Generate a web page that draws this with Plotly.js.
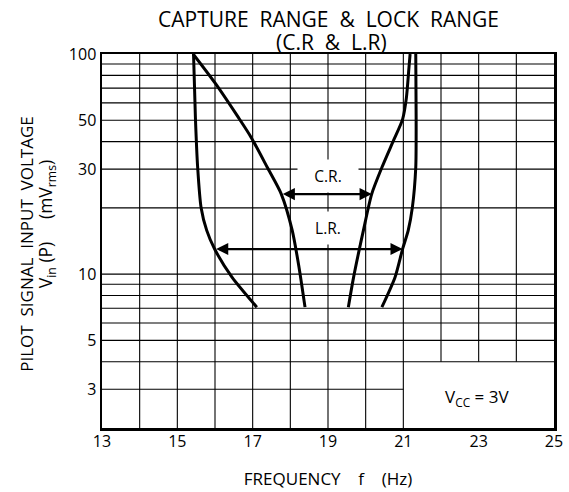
<!DOCTYPE html>
<html>
<head>
<meta charset="utf-8">
<script src="https://cdn.plot.ly/plotly-3.0.1.min.js"></script>
<style>html,body{margin:0;padding:0;background:#fff;}#chart{width:569px;height:492px;}</style>
</head>
<body>
<div id="chart"></div>
<script>
// Tick labels and grid values
const xTickVals = [13, 15, 17, 19, 21, 23, 25];
const yTickVals = [3, 5, 10, 30, 50, 100];
const xGridVals = [14, 15, 16, 17, 18, 19, 20, 21, 22, 23, 24];
const yGridVals = [3, 4, 5, 6, 7, 8, 9, 10, 20, 30, 40, 50, 60, 70, 80, 90];

// Lock range (L.R.) curves
const lrLeftX  = [15.43, 15.48, 15.54, 15.63, 15.78, 15.99, 16.45, 17.11];
const lrLeftY  = [100, 51.5, 30.5, 20.1, 15.8, 13.0, 9.69, 7.08];
const lrRightX = [21.33, 21.34, 21.33, 21.24, 21.13, 20.98, 20.78, 20.43];
const lrRightY = [100, 51.5, 30.5, 20.1, 15.8, 13.0, 9.69, 7.08];

// Capture range (C.R.) curves
const crLeftX  = [15.42, 16.01, 16.62, 16.96, 17.39, 17.76, 18.05, 18.23, 18.39];
const crLeftY  = [100, 73.5, 51.5, 41.8, 30.5, 23.1, 15.8, 10.76, 7.08];
const crRightX = [21.18, 21.15, 21.08, 20.98, 20.74, 20.43, 20.16, 19.94, 19.68, 19.54];
const crRightY = [100, 86.9, 63.0, 50.5, 40.5, 30.5, 23.1, 15.8, 9.69, 7.08];

// Range arrows
const crArrow = {from: 17.76, to: 20.16, level: 23.1};
const lrArrow = {from: 15.99, to: 20.98, level: 13.0};

const X_MIN = 13, X_MAX = 25, Y_MIN = 2, Y_MAX = 100;
const BOX_X = 21, BOX_Y = 4; // note box region (bottom right)

// Build grid as line traces
const gx = [], gy = [];
xGridVals.forEach(v => {
  gx.push(v, v, null);
  gy.push(v > BOX_X ? BOX_Y : Y_MIN, Y_MAX, null);
});
yGridVals.forEach(v => {
  gx.push(X_MIN, v < BOX_Y ? BOX_X : X_MAX, null);
  gy.push(v, v, null);
});

const curveStyle = {color: '#000', width: 3, shape: 'spline', smoothing: 0.7};
const traces = [
  {x: gx, y: gy, mode: 'lines', line: {color: '#000', width: 1.1}, hoverinfo: 'skip', showlegend: false},
  {x: lrLeftX, y: lrLeftY, mode: 'lines', line: curveStyle, showlegend: false},
  {x: lrRightX, y: lrRightY, mode: 'lines', line: curveStyle, showlegend: false},
  {x: crLeftX, y: crLeftY, mode: 'lines', line: curveStyle, showlegend: false},
  {x: crRightX, y: crRightY, mode: 'lines', line: curveStyle, showlegend: false}
];

const fontFam = '"Open Sans", "Noto Sans", sans-serif';
const L = Math.log10;
const sp = '\u00a0';
function arrowAnn(a) {
  return {x: a.to, y: L(a.level), ax: a.from, ay: L(a.level), xref: 'x', yref: 'y', axref: 'x', ayref: 'y',
          text: '', showarrow: true, arrowhead: 2, startarrowhead: 2, arrowside: 'end+start',
          arrowsize: 1.1, startarrowsize: 1.1, arrowwidth: 2.2, arrowcolor: '#000', standoff: 0, startstandoff: 0};
}

const layout = {
  width: 569, height: 492,
  margin: {l: 102, r: 15, t: 54, b: 64},
  paper_bgcolor: '#fff', plot_bgcolor: '#fff',
  font: {family: fontFam, color: '#000', size: 16},
  xaxis: {type: 'linear', range: [X_MIN, X_MAX], tickvals: xTickVals, ticktext: xTickVals.map(String),
          showgrid: false, zeroline: false, showline: true, mirror: true, linecolor: '#000', linewidth: 2.5,
          ticks: '', tickfont: {size: 16}, ticklabelstandoff: -3,
          title: {text: 'FREQUENCY' + sp + sp + sp + ' f' + sp + sp + sp + ' (Hz)', font: {size: 17}, standoff: 23}},
  yaxis: {type: 'log', range: [L(Y_MIN), L(Y_MAX)], tickvals: yTickVals, ticktext: yTickVals.map(String),
          showgrid: false, zeroline: false, showline: true, mirror: true, linecolor: '#000', linewidth: 2.5,
          ticks: '', tickfont: {size: 16}},
  annotations: [
    {x: 0.502, y: 1, xref: 'paper', yref: 'paper', xanchor: 'center', yanchor: 'middle', yshift: 35,
     text: 'CAPTURE' + sp + ' RANGE' + sp + ' &' + sp + ' LOCK' + sp + ' RANGE', showarrow: false, font: {size: 21}},
    {x: 0.507, y: 1, xref: 'paper', yref: 'paper', xanchor: 'center', yanchor: 'middle', yshift: 12,
     text: '(C.R' + sp + ' &' + sp + ' L.R)', showarrow: false, font: {size: 21}},
    {x: 19, y: L(27.8), xref: 'x', yref: 'y', text: 'C.R.', showarrow: false, bgcolor: '#fff',
     width: 58, height: 30, font: {size: 15.5}},
    {x: 19, y: L(16.2), xref: 'x', yref: 'y', text: 'L.R.', showarrow: false, bgcolor: '#fff',
     width: 58, height: 30, font: {size: 15.5}},
    arrowAnn(crArrow),
    arrowAnn(lrArrow),
    {x: 22.96, y: L(2.76), xref: 'x', yref: 'y', text: 'V<sub>CC</sub> = 3V', showarrow: false, font: {size: 17}},
    {x: 0, y: 0.49, xref: 'paper', yref: 'paper', xanchor: 'center', yanchor: 'middle', xshift: -75,
     text: 'PILOT' + sp + ' SIGNAL' + sp + ' INPUT' + sp + ' VOLTAGE', textangle: -90, showarrow: false, font: {size: 17}},
    {x: 0, y: 0.545, xref: 'paper', yref: 'paper', xanchor: 'center', yanchor: 'middle', xshift: -56,
     text: 'V<sub>in</sub> (P)' + sp + sp + sp + sp + ' (mV<sub>rms</sub>)', textangle: -90, showarrow: false, font: {size: 17.5}}
  ]
};

Plotly.newPlot('chart', traces, layout, {displayModeBar: false, staticPlot: true});
</script>
</body>
</html>
